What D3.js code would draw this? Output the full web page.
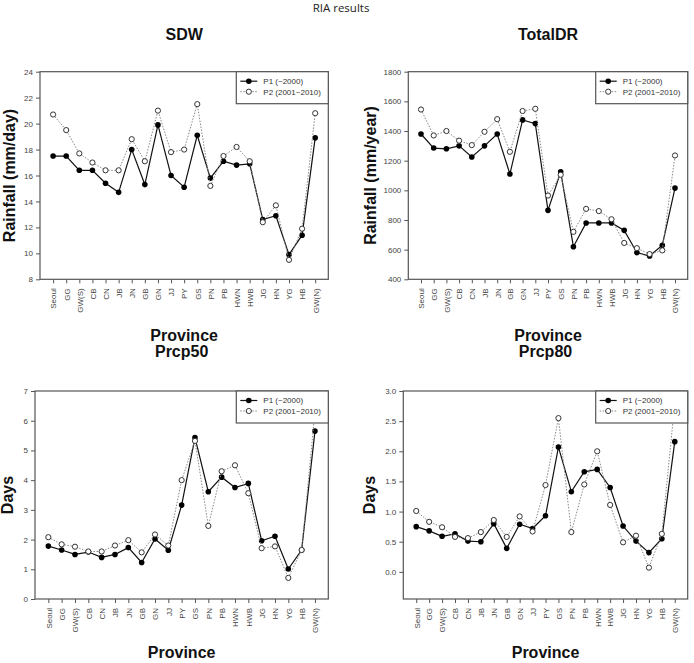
<!DOCTYPE html>
<html>
<head>
<meta charset="utf-8">
<script src="https://cdn.jsdelivr.net/npm/d3@7"></script>
<style>
  body { margin: 0; background: #fff; }
  svg { display: block; }
</style>
</head>
<body>
<svg id="chart"></svg>
<script>
// Page size
const width = 694, height = 663;

// Categories (x axis)
const provinces = ["Seoul", "GG", "GW(S)", "CB", "CN", "JB", "JN", "GB", "GN", "JJ", "PY",
  "GS", "PN", "PB", "HWN", "HWB", "JG", "HN", "YG", "HB", "GW(N)"];

// SDW (mm/day)
const sdwP1 = [17.5, 17.5, 16.4, 16.4, 15.4, 14.7, 18.0, 15.3, 19.9, 16.0, 15.1,
  19.1, 15.8, 17.1, 16.8, 16.9, 12.6, 12.9, 9.9, 11.4, 18.9];
const sdwP2 = [20.7, 19.5, 17.7, 17.0, 16.4, 16.4, 18.8, 17.1, 21.0, 17.8, 18.0,
  21.5, 15.2, 17.5, 18.2, 17.1, 12.4, 13.7, 9.5, 11.9, 20.8];

// TotalDR (mm/year)
const totalP1 = [1380, 1285, 1280, 1300, 1225, 1300, 1380, 1110, 1475, 1450, 865,
  1125, 620, 780, 780, 780, 730, 580, 557, 630, 1015];
const totalP2 = [1545, 1370, 1400, 1335, 1305, 1395, 1480, 1260, 1535, 1550, 965,
  1105, 720, 875, 860, 805, 645, 610, 570, 595, 1235];

// Prcp50 (days)
const p50P1 = [1.78, 1.65, 1.50, 1.58, 1.40, 1.50, 1.73, 1.23, 2.02, 1.64, 3.16,
  5.43, 3.61, 4.10, 3.75, 3.89, 1.96, 2.11, 1.01, 1.65, 5.65];
const p50P2 = [2.08, 1.84, 1.76, 1.60, 1.60, 1.80, 1.98, 1.57, 2.17, 1.80, 4.00,
  5.32, 2.46, 4.30, 4.50, 3.56, 1.71, 1.77, 0.71, 1.65, 6.30];

// Prcp80 (days)
const p80P1 = [0.75, 0.68, 0.59, 0.63, 0.51, 0.50, 0.80, 0.39, 0.79, 0.72, 0.93,
  2.07, 1.33, 1.66, 1.70, 1.40, 0.76, 0.51, 0.32, 0.55, 2.16];
const p80P2 = [1.01, 0.83, 0.74, 0.58, 0.56, 0.66, 0.86, 0.58, 0.92, 0.67, 1.44,
  2.55, 0.66, 1.45, 2.00, 1.11, 0.49, 0.60, 0.07, 0.63, 2.80];

// Tick labels (y axes)
const sdwTicks = [8, 10, 12, 14, 16, 18, 20, 22, 24];
const totalTicks = [400, 600, 800, 1000, 1200, 1400, 1600, 1800];
const p50Ticks = [0, 1, 2, 3, 4, 5, 6, 7];
const p80Ticks = [0, 0.5, 1.0, 1.5, 2.0, 2.5, 3.0];

const seriesNames = ["P1 (~2000)", "P2 (2001~2010)"];

// Panel layout
const panels = [
  { title: "SDW", ylabel: "Rainfall (mm/day)", p1: sdwP1, p2: sdwP2, domain: [8, 24], ticks: sdwTicks,
    fmt: d3.format("d"), left: 40, right: 328.3, top: 71.7, bottom: 279.3, ylabX: 15,
    titleY: 39.5, xlabY: 340.5 },
  { title: "TotalDR", ylabel: "Rainfall (mm/year)", p1: totalP1, p2: totalP2, domain: [400, 1800], ticks: totalTicks,
    fmt: d3.format("d"), left: 408.3, right: 687.7, top: 71.7, bottom: 279.3, ylabX: 375.5,
    titleY: 39.5, xlabY: 340.5 },
  { title: "Prcp50", ylabel: "Days", p1: p50P1, p2: p50P2, domain: [0, 7], ticks: p50Ticks,
    fmt: d3.format("d"), left: 35, right: 328.3, top: 391, bottom: 599, ylabX: 13,
    titleY: 357, xlabY: 658 },
  { title: "Prcp80", ylabel: "Days", p1: p80P1, p2: p80P2, domain: [-0.45, 3], ticks: p80Ticks,
    fmt: d3.format(".1f"), left: 403.3, right: 687.7, top: 391, bottom: 599, ylabX: 375,
    titleY: 357, xlabY: 658 }
];

const svg = d3.select("#chart")
  .attr("width", width)
  .attr("height", height)
  .style("font-family", "Arial, 'Liberation Sans', sans-serif");

// Page header
svg.append("text")
  .attr("x", 341)
  .attr("y", 11.5)
  .attr("text-anchor", "middle")
  .style("font-family", "'Open Sans', sans-serif")
  .style("font-size", "11.5px")
  .attr("fill", "#222")
  .text("RIA results");

panels.forEach(p => {
  const g = svg.append("g");
  const x = d3.scalePoint().domain(provinces).range([p.left, p.right]).padding(1);
  const y = d3.scaleLinear().domain(p.domain).range([p.bottom, p.top]);
  const cx = (p.left + p.right) / 2;

  // title
  g.append("text")
    .attr("x", cx).attr("y", p.titleY)
    .attr("text-anchor", "middle")
    .style("font-size", "16px").style("font-weight", "bold")
    .attr("fill", "#111")
    .text(p.title);

  // y axis
  const ya = g.append("g")
    .attr("transform", `translate(${p.left},0)`)
    .call(d3.axisLeft(y).tickValues(p.ticks).tickFormat(p.fmt).tickSize(4).tickPadding(3));
  ya.select(".domain").remove();
  ya.selectAll("line").attr("stroke", "#555");
  ya.selectAll("text").style("font-size", "8px").attr("fill", "#444");

  // x axis
  const xa = g.append("g")
    .attr("transform", `translate(0,${p.bottom})`)
    .call(d3.axisBottom(x).tickSize(4));
  xa.select(".domain").remove();
  xa.selectAll("line").attr("stroke", "#555");
  xa.selectAll("text")
    .style("font-size", "8px").attr("fill", "#444")
    .attr("transform", "rotate(-90)")
    .attr("x", -9).attr("y", 0).attr("dy", "0.35em")
    .style("text-anchor", "end");

  // frame
  g.append("rect")
    .attr("x", p.left).attr("y", p.top)
    .attr("width", p.right - p.left).attr("height", p.bottom - p.top)
    .attr("fill", "none").attr("stroke", "#555").attr("stroke-width", 1.2);

  // axis labels
  g.append("text")
    .attr("transform", `translate(${p.ylabX},${(p.top + p.bottom) / 2}) rotate(-90)`)
    .attr("text-anchor", "middle")
    .style("font-size", "16px").style("font-weight", "bold")
    .attr("fill", "#111")
    .text(p.ylabel);

  g.append("text")
    .attr("x", cx).attr("y", p.xlabY)
    .attr("text-anchor", "middle")
    .style("font-size", "16px").style("font-weight", "bold")
    .attr("fill", "#111")
    .text("Province");

  const line = d3.line().x((d, i) => x(provinces[i])).y(d => y(d));

  // P1 solid, filled markers
  g.append("path").datum(p.p1)
    .attr("d", line).attr("fill", "none")
    .attr("stroke", "#111").attr("stroke-width", 1.2);
  g.append("g").selectAll("circle").data(p.p1).join("circle")
    .attr("cx", (d, i) => x(provinces[i])).attr("cy", d => y(d))
    .attr("r", 2.8).attr("fill", "#000");

  // P2 dotted, open markers
  g.append("path").datum(p.p2)
    .attr("d", line).attr("fill", "none")
    .attr("stroke", "#888").attr("stroke-width", 1)
    .attr("stroke-dasharray", "1.5,1.5");
  g.append("g").selectAll("circle").data(p.p2).join("circle")
    .attr("cx", (d, i) => x(provinces[i])).attr("cy", d => y(d))
    .attr("r", 2.6).attr("fill", "#fff").attr("stroke", "#333").attr("stroke-width", 1);

  // legend
  const lw = 92, lh = 32, lx = p.right - lw, ly = p.top;
  const leg = g.append("g");
  leg.append("rect")
    .attr("x", lx).attr("y", ly).attr("width", lw).attr("height", lh)
    .attr("fill", "#fff").attr("stroke", "#555").attr("stroke-width", 1.2);
  seriesNames.forEach((name, k) => {
    const ry = ly + 9.5 + k * 10.5;
    leg.append("line")
      .attr("x1", lx + 4).attr("x2", lx + 21).attr("y1", ry).attr("y2", ry)
      .attr("stroke", k === 0 ? "#111" : "#888")
      .attr("stroke-width", k === 0 ? 1.2 : 1)
      .attr("stroke-dasharray", k === 0 ? null : "1.5,1.5");
    leg.append("circle")
      .attr("cx", lx + 12.5).attr("cy", ry).attr("r", k === 0 ? 2.8 : 2.6)
      .attr("fill", k === 0 ? "#000" : "#fff")
      .attr("stroke", k === 0 ? null : "#333");
    leg.append("text")
      .attr("x", lx + 27).attr("y", ry).attr("dy", "0.35em")
      .style("font-size", "8px").attr("fill", "#333")
      .text(name);
  });
});
</script>
</body>
</html>
